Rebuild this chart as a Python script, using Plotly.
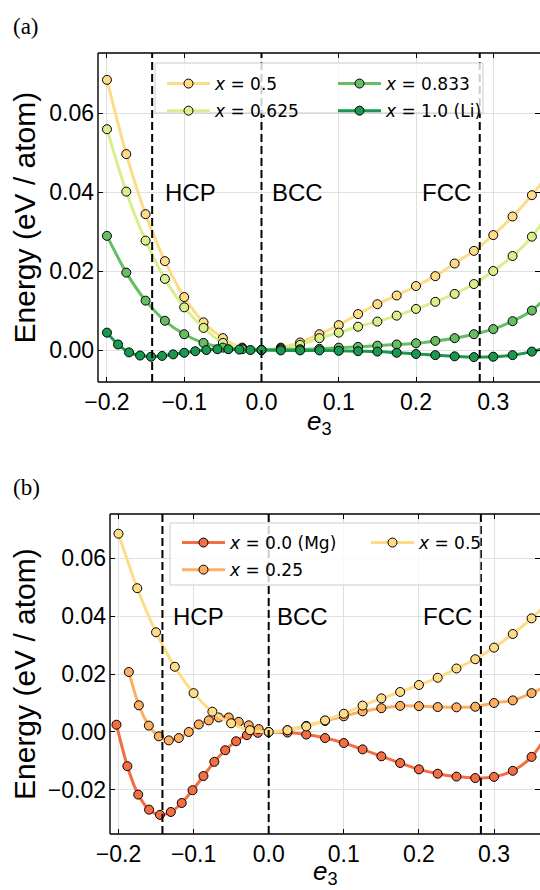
import plotly.graph_objects as go

# ---------------- data: panel (a) ----------------
a_e_coarse = [-0.2, -0.175, -0.15, -0.125, -0.1, -0.075, -0.05, -0.025, 0.0,
              0.025, 0.05, 0.075, 0.1, 0.125, 0.15, 0.175, 0.2, 0.225, 0.25,
              0.275, 0.3, 0.325, 0.35, 0.375]
a_E_x05 = [0.0684, 0.0496, 0.0344, 0.0225, 0.0134, 0.0070, 0.0030, 0.0006, 0.0,
           0.0006, 0.0019, 0.0040, 0.0063, 0.0091, 0.0116, 0.0138, 0.0162, 0.0187,
           0.0219, 0.0251, 0.0291, 0.0338, 0.0392, 0.0455]
a_E_x0625 = [0.0559, 0.0401, 0.0277, 0.0180, 0.0108, 0.0056, 0.0018, 0.0004, 0.0,
             0.0004, 0.0013, 0.0030, 0.0044, 0.0059, 0.0072, 0.0087, 0.0104, 0.0122,
             0.0142, 0.0167, 0.0200, 0.0238, 0.0287, 0.0355]
a_E_x0833 = [0.0289, 0.0196, 0.0125, 0.0074, 0.0040, 0.0018, 0.0006, 0.0002, 0.0,
             0.0002, 0.0002, 0.0003, 0.0006, 0.0008, 0.0011, 0.0014, 0.0017, 0.0023,
             0.0030, 0.0040, 0.0053, 0.0073, 0.0100, 0.0145]
a_e_li = [-0.2, -0.1857, -0.1714, -0.1571, -0.1429, -0.1286, -0.1143, -0.1, -0.0857,
          -0.0714, -0.0571, -0.0429, -0.0286, -0.0143, 0.0,
          0.025, 0.05, 0.075, 0.1, 0.125, 0.15, 0.175, 0.2, 0.225, 0.25, 0.275,
          0.3, 0.325, 0.35, 0.375]
a_E_li = [0.0044, 0.0014, -0.0006, -0.0014, -0.0017, -0.0015, -0.0011, -0.0007, -0.0003,
          0.0, 0.0002, 0.0002, 0.0001, 0.0, 0.0,
          -0.0001, -0.0001, -0.0001, -0.0002, -0.0003, -0.0004, -0.0007, -0.0010, -0.0013,
          -0.0016, -0.0018, -0.0017, -0.0013, -0.0004, 0.0010]

# ---------------- data: panel (b) ----------------
b_e_mg = [-0.2027, -0.1882, -0.1737, -0.1593, -0.1448, -0.1303, -0.1158, -0.1014, -0.0869,
          -0.0724, -0.0579, -0.0434, -0.029, -0.0145, 0.0,
          0.025, 0.05, 0.075, 0.1, 0.125, 0.15, 0.175, 0.2, 0.225, 0.25, 0.275,
          0.3, 0.325, 0.35, 0.375]
b_E_mg = [0.0025, -0.0118, -0.0216, -0.0268, -0.0286, -0.0276, -0.0245, -0.0201, -0.0152,
          -0.0103, -0.0063, -0.0032, -0.0011, -0.0003, 0.0,
          -0.0002, -0.0009, -0.0021, -0.0038, -0.0060, -0.0084, -0.0107, -0.0129, -0.0144,
          -0.0154, -0.0159, -0.0155, -0.0134, -0.0086, 0.0010]
b_e_x025 = [-0.1862, -0.1729, -0.1596, -0.1463, -0.133, -0.1197, -0.1064, -0.0931, -0.0798,
            -0.0665, -0.0532, -0.0399, -0.0266, -0.0133, 0.0,
            0.025, 0.05, 0.075, 0.1, 0.125, 0.15, 0.175, 0.2, 0.225, 0.25, 0.275,
            0.3, 0.325, 0.35, 0.375]
b_E_x025 = [0.0207, 0.0092, 0.0022, -0.0015, -0.0029, -0.0021, 0.0, 0.0026, 0.0040,
            0.0050, 0.0050, 0.0035, 0.0023, 0.0010, 0.0,
            0.0006, 0.0021, 0.0038, 0.0054, 0.0071, 0.0082, 0.0090, 0.0089, 0.0086,
            0.0085, 0.0087, 0.0100, 0.0109, 0.0134, 0.0165]
b_e_x05 = a_e_coarse
b_E_x05 = a_E_x05

phase_names = ["HCP", "BCC", "FCC"]
phase_lines = [-0.1415, 0.0, 0.2825]
phase_text_x = [-0.0565, 0.082, 0.2736]
x_ticks = [-0.2, -0.1, 0.0, 0.1, 0.2, 0.3]
a_y_ticks = [0.0, 0.02, 0.04, 0.06]
b_y_ticks = [-0.02, 0.0, 0.02, 0.04, 0.06]

C_05, C_0625, C_0833, C_LI = "#fedc87", "#d9ef8b", "#66bd63", "#1a9850"
C_MG, C_025 = "#f46d43", "#fdae61"

W, H = 540, 890
SANS = "Liberation Sans, Arial, sans-serif"
LEGF = "DejaVu Sans, sans-serif"

fig = go.Figure()


def add(xs, ys, name, color, xa, ya, legend, grp):
    fig.add_trace(go.Scatter(
        x=xs, y=ys, mode="lines+markers", name=name,
        line=dict(color=color, width=3, shape="spline", smoothing=0.8),
        marker=dict(size=9, color=color, line=dict(color="black", width=1)),
        xaxis=xa, yaxis=ya, legend=legend, legendgroup=grp))


add(a_e_coarse, a_E_x05, "<i>x</i> = 0.5", C_05, "x", "y", "legend", "a1")
add(a_e_coarse, a_E_x0625, "<i>x</i> = 0.625", C_0625, "x", "y", "legend", "a2")
add(a_e_coarse, a_E_x0833, "<i>x</i> = 0.833", C_0833, "x", "y", "legend2", "a3")
add(a_e_li, a_E_li, "<i>x</i> = 1.0 (Li)", C_LI, "x", "y", "legend2", "a4")
add(b_e_mg, b_E_mg, "<i>x</i> = 0.0 (Mg)", C_MG, "x2", "y2", "legend3", "b1")
add(b_e_x025, b_E_x025, "<i>x</i> = 0.25", C_025, "x2", "y2", "legend3", "b2")
add(b_e_x05, b_E_x05, "<i>x</i> = 0.5", C_05, "x2", "y2", "legend4", "b3")

# panel geometry (pixels)
A = dict(l=98, r=540, t=53, b=382)
B = dict(l=110, r=540, t=514, b=834)


def px(v):
    return v / W


def py(v):
    return 1 - v / H


axis_common = dict(
    ticks="inside", ticklen=5, tickwidth=1.2, tickcolor="black", automargin=False,
    showline=False, mirror="ticks", showgrid=True, gridcolor="#e0e0e0",
    gridwidth=1, zeroline=False, tickfont=dict(family=SANS, size=23, color="black"),
)

fig.update_layout(
    width=W, height=H, margin=dict(l=0, r=0, t=0, b=0, autoexpand=False),
    paper_bgcolor="white", plot_bgcolor="white",
    xaxis=dict(domain=[px(A["l"]), 1], anchor="y", range=[-0.2116, 0.3605],
               tickvals=x_ticks, tickformat=".1f", ticklabelstandoff=4, **axis_common),
    yaxis=dict(domain=[py(A["b"]), py(A["t"])], anchor="x", range=[-0.0081, 0.0752],
               tickvals=a_y_ticks, tickformat=".2f", ticklabelstandoff=3, **axis_common),
    xaxis2=dict(domain=[px(B["l"]), 1], anchor="y2", range=[-0.2113, 0.3612],
                tickvals=x_ticks, tickformat=".1f", ticklabelstandoff=4, **axis_common),
    yaxis2=dict(domain=[py(B["b"]), py(B["t"])], anchor="x2", range=[-0.0352, 0.0752],
                tickvals=b_y_ticks, tickformat=".2f", ticklabelstandoff=3, **axis_common),
    showlegend=True,
)

leg_common = dict(bgcolor="rgba(0,0,0,0)", borderwidth=0, orientation="v",
                  xanchor="left", yanchor="top", tracegroupgap=2,
                  font=dict(family=LEGF, size=17, color="black"), itemwidth=43)
fig.update_layout(
    legend=dict(x=px(162), y=py(66), **leg_common),
    legend2=dict(x=px(333), y=py(66), **leg_common),
    legend3=dict(x=px(177), y=py(525), **leg_common),
    legend4=dict(x=px(366), y=py(525), **leg_common),
)

shapes = []
for xa, ya in (("x", "y"), ("x2", "y2")):
    for xv in phase_lines:
        shapes.append(dict(type="line", xref=xa, yref=ya + " domain", x0=xv, x1=xv, y0=0, y1=1,
                           line=dict(color="black", width=2, dash="8px,4px"), layer="above"))
# legend frames
for (l, r, t, b) in ((155, 483, 63, 113), (170, 480, 523, 585)):
    shapes.append(dict(type="rect", xref="paper", yref="paper", x0=px(l), x1=px(r),
                       y0=py(b), y1=py(t), fillcolor="rgba(255,255,255,0.8)",
                       line=dict(color="#cccccc", width=1), layer="above"))
# spines (left, bottom, top)
for P in (A, B):
    for (x0, y0, x1, y1) in ((P["l"], P["t"], P["l"], P["b"]), (P["l"], P["b"], P["r"], P["b"]),
                             (P["l"], P["t"], P["r"], P["t"])):
        shapes.append(dict(type="line", xref="paper", yref="paper", x0=px(x0), x1=px(x1),
                           y0=py(y0), y1=py(y1), line=dict(color="black", width=1.4),
                           layer="above"))
fig.update_layout(shapes=shapes)

ann = []
for xa, ya in (("x", "y"), ("x2", "y2")):
    for name, xv in zip(phase_names, phase_text_x):
        ann.append(dict(text=name, x=xv, y=0.04, xref=xa, yref=ya, xanchor="right",
                        yanchor="middle", showarrow=False,
                        font=dict(family=SANS, size=24, color="black")))
for yc in ((A["t"] + A["b"]) / 2, (B["t"] + B["b"]) / 2):
    ann.append(dict(text="Energy (eV / atom)", x=px(24), y=py(yc), xref="paper", yref="paper",
                    xanchor="center", yanchor="middle", textangle=-90, showarrow=False,
                    font=dict(family=SANS, size=30, color="black")))
for xc, yc in (((A["l"] + A["r"]) / 2, 422), ((B["l"] + B["r"]) / 2, 872)):
    ann.append(dict(text="<i>e</i><sub>3</sub>", x=px(xc), y=py(yc), xref="paper", yref="paper",
                    xanchor="center", yanchor="middle", showarrow=False,
                    font=dict(family=SANS, size=26, color="black")))
for lab, yc in (("(a)", 26), ("(b)", 487)):
    ann.append(dict(text=lab, x=px(11), y=py(yc), xref="paper", yref="paper",
                    xanchor="left", yanchor="middle", showarrow=False,
                    font=dict(family="Liberation Serif, Times New Roman, serif", size=23,
                              color="black")))
fig.update_layout(annotations=ann)

fig.write_html("out.html")
